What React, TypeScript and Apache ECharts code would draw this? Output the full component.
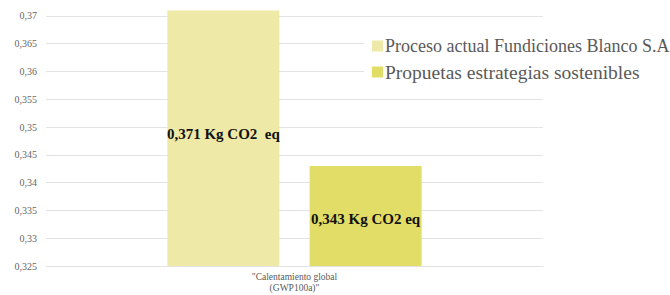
import React, { useEffect, useRef } from "react";
import * as echarts from "echarts";

const categories = ['"Calentamiento global\n(GWP100a)"'];
const seriesNames = ["Proceso actual Fundiciones Blanco S.A", "Propuetas estrategias sostenibles"];
const actualValues = [0.371];
const proposedValues = [0.343];
const valueLabels = ["0,371 Kg CO2  eq", "0,343 Kg CO2 eq"];
const colors = ["#eee9a6", "#e1dd66"];

export default function App() {
  const ref = useRef<HTMLDivElement>(null);
  useEffect(() => {
    if (!ref.current) return;
    const chart = echarts.init(ref.current, undefined, { renderer: "svg" });
    const serif = "'Liberation Serif', 'DejaVu Serif', serif";
    const barLabel = (i: number, dy: number) => ({
      show: true,
      position: "inside",
      offset: [0, dy],
      formatter: () => valueLabels[i],
      fontFamily: serif,
      fontWeight: "bold",
      fontSize: 15,
      color: "#111111",
    });
    chart.setOption({
      animation: false,
      grid: { left: 46, right: 127, top: 10.4, bottom: 29 },
      legend: {
        orient: "vertical",
        left: 364,
        top: 35,
        padding: [2, 0, 2, 8],
        backgroundColor: "#ffffff",
        itemWidth: 11,
        itemHeight: 11,
        itemGap: 7,
        icon: "rect",
        textStyle: { fontFamily: serif, fontSize: 18, color: "#595959", padding: [0, 0, 0, -3] },
        data: [
          { name: seriesNames[0] },
          { name: seriesNames[1], textStyle: { fontSize: 19.5 } },
        ],
      },
      xAxis: {
        type: "category",
        data: categories,
        axisTick: { show: false },
        axisLine: { lineStyle: { color: "#e3e3e3" } },
        axisLabel: { fontFamily: serif, fontSize: 9.5, color: "#595959", lineHeight: 11, margin: 5 },
      },
      yAxis: {
        type: "value",
        min: 0.325,
        max: 0.371,
        interval: 0.005,
        axisLine: { show: false },
        axisTick: { show: false },
        splitLine: { showMaxLine: false, lineStyle: { color: "#e3e3e3" } },
        axisLabel: {
          fontFamily: serif,
          fontSize: 10,
          color: "#666666",
          margin: 9,
          showMaxLabel: false,
          formatter: (v: number) => (v > 0.3705 ? "" : parseFloat(v.toFixed(3)).toString().replace(".", ",")),
        },
      },
      series: [
        {
          name: seriesNames[0],
          type: "bar",
          data: actualValues,
          barWidth: 112,
          barGap: "27%",
          itemStyle: { color: colors[0] },
          label: barLabel(0, -4),
        },
        {
          name: seriesNames[1],
          type: "bar",
          data: proposedValues,
          barWidth: 112,
          barGap: "27%",
          itemStyle: { color: colors[1] },
          label: barLabel(1, 3),
        },
      ],
    });
    return () => chart.dispose();
  }, []);
  return <div ref={ref} style={{ width: 670, height: 295, position: "absolute", left: 0, top: 0 }} />;
}
